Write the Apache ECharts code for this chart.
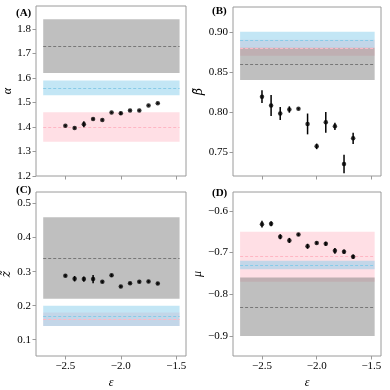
<!DOCTYPE html>
<html>
<head>
<meta charset="utf-8">
<script src="https://cdn.jsdelivr.net/npm/echarts@6/dist/echarts.min.js"></script>
<style>
html, body { margin: 0; padding: 0; background: #fff; }
#chart { width: 390px; height: 390px; }
</style>
</head>
<body>
<div id="chart"></div>
<script>
// epsilon values of the simulation points
var eps = [-2.5, -2.4167, -2.3333, -2.25, -2.1667, -2.0833, -2.0, -1.9167, -1.8333, -1.75, -1.6667];

// measured exponents and their errors
var alphaVal = [1.405, 1.396, 1.411, 1.433, 1.429, 1.459, 1.456, 1.467, 1.467, 1.488, 1.497];
var alphaErr = [0.003, 0.003, 0.012, 0.003, 0.003, 0.003, 0.006, 0.003, 0.003, 0.003, 0.003];
var betaVal = [0.819, 0.808, 0.798, 0.803, 0.804, 0.785, 0.757, 0.787, 0.782, 0.735, 0.767];
var betaErr = [0.008, 0.013, 0.008, 0.004, 0.001, 0.013, 0.0035, 0.013, 0.0045, 0.0115, 0.007];
var zVal = [0.288, 0.279, 0.278, 0.278, 0.270, 0.289, 0.256, 0.266, 0.270, 0.271, 0.265];
var zErr = [0.003, 0.008, 0.008, 0.012, 0.003, 0.004, 0.003, 0.003, 0.003, 0.003, 0.003];
var muVal = [-0.632, -0.631, -0.662, -0.671, -0.657, -0.685, -0.677, -0.679, -0.696, -0.698, -0.710];
var muErr = [0.008, 0.006, 0.006, 0.006, 0.003, 0.006, 0.003, 0.005, 0.007, 0.005, 0.005];

// reference bands: [low, mean, high], drawn in order pink, blue, gray
var bandX = [-2.7, -1.47];
var alphaBands = [[1.34, 1.40, 1.46], [1.53, 1.56, 1.59], [1.62, 1.73, 1.84]];
var betaBands = [[0.87, 0.88, 0.89], [0.88, 0.89, 0.90], [0.84, 0.86, 0.88]];
var zBands = [[0.14, 0.16, 0.18], [0.14, 0.17, 0.20], [0.22, 0.34, 0.46]];
var muBands = [[-0.77, -0.71, -0.65], [-0.74, -0.73, -0.72], [-0.90, -0.83, -0.76]];

// tick labels
var xTicks = [-2.5, -2.0, -1.5];
var alphaTicks = [1.2, 1.3, 1.4, 1.5, 1.6, 1.7, 1.8];
var betaTicks = [0.75, 0.80, 0.85, 0.90];
var zTicks = [0.1, 0.2, 0.3, 0.4, 0.5];
var muTicks = [-0.9, -0.8, -0.7, -0.6];

var bandFill = ['rgba(255,192,203,0.5)', 'rgba(135,206,235,0.5)', 'rgba(128,128,128,0.5)'];
var bandLine = ['#ffb6c4', '#87cbe8', '#777777'];

var FONT = "'Liberation Serif', 'DejaVu Serif', serif";

function fmt(d) {
    return function (v) { return Number(v).toFixed(d).replace('-', '\u2212'); };
}

var grids = [
    { left: 36, top: 6, width: 150, height: 170 },
    { left: 233, top: 7, width: 148, height: 169 },
    { left: 36, top: 192, width: 150, height: 166 },
    { left: 233, top: 192, width: 148, height: 166 }
];
grids.forEach(function (g) {
    g.show = true;
    g.borderColor = '#9a9a9a';
    g.borderWidth = 1;
    g.backgroundColor = 'transparent';
});

function xAxis(i, labels) {
    return {
        type: 'value', gridIndex: i, min: -2.765, max: -1.412,
        name: labels ? '\u03b5' : '', nameLocation: 'middle', nameGap: 21,
        nameTextStyle: { fontFamily: FONT, fontStyle: 'italic', fontSize: 12, color: '#000' },
        axisLine: { show: false },
        axisTick: { show: true, length: 3.5, customValues: xTicks, lineStyle: { color: '#9a9a9a' } },
        axisLabel: { show: labels, customValues: xTicks, formatter: fmt(1), margin: 5,
            fontFamily: FONT, fontSize: 11, color: '#000' },
        splitLine: { show: false }
    };
}

function yAxis(i, min, max, ticks, d, name, nameFont) {
    return {
        type: 'value', gridIndex: i, min: min, max: max,
        name: name, nameLocation: 'middle', nameGap: 22, nameRotate: 90,
        nameTextStyle: { fontFamily: nameFont || FONT, fontStyle: 'italic', fontSize: 12, color: '#000' },
        axisLine: { show: false },
        axisTick: { show: true, length: 3.5, customValues: ticks, lineStyle: { color: '#9a9a9a' } },
        axisLabel: { customValues: ticks, formatter: fmt(d), margin: 5,
            fontFamily: FONT, fontSize: 11, color: '#000' },
        splitLine: { show: false }
    };
}

function bandSeries(i, bands) {
    return {
        type: 'line', xAxisIndex: i, yAxisIndex: i, data: [], silent: true,
        markArea: {
            silent: true,
            data: bands.map(function (b, k) {
                return [{ coord: [bandX[0], b[0]], itemStyle: { color: bandFill[k] } },
                        { coord: [bandX[1], b[2]] }];
            })
        },
        markLine: {
            silent: true, symbol: ['none', 'none'], label: { show: false },
            data: bands.map(function (b, k) {
                return [{ coord: [bandX[0], b[1]], lineStyle: { color: bandLine[k], type: [3, 2], width: 1 } },
                        { coord: [bandX[1], b[1]] }];
            })
        }
    };
}

function errSeries(i, vals, errs) {
    return {
        type: 'custom', xAxisIndex: i, yAxisIndex: i, z: 5,
        data: eps.map(function (x, k) { return [x, vals[k] - errs[k], vals[k] + errs[k]]; }),
        renderItem: function (params, api) {
            var lo = api.coord([api.value(0), api.value(1)]);
            var hi = api.coord([api.value(0), api.value(2)]);
            return {
                type: 'line',
                shape: { x1: lo[0], y1: lo[1], x2: hi[0], y2: hi[1] },
                style: { stroke: '#000', lineWidth: 1.5 }
            };
        }
    };
}

function pointSeries(i, vals) {
    return {
        type: 'scatter', xAxisIndex: i, yAxisIndex: i, z: 6,
        symbolSize: 4.5, itemStyle: { color: '#000' },
        data: eps.map(function (x, k) { return [x, vals[k]]; })
    };
}

var panelLabels = ['(A)', '(B)', '(C)', '(D)'];
var labelPos = [[16, 8], [212, 6], [16, 185], [212, 188]];

var myChart = echarts.init(document.getElementById('chart'), null, { renderer: 'canvas' });
var option = {
    animation: false,
    backgroundColor: '#fff',
    title: panelLabels.map(function (t, k) {
        return { text: t, left: labelPos[k][0], top: labelPos[k][1], padding: 0,
            textStyle: { fontFamily: FONT, fontWeight: 'bold', fontSize: 11, color: '#000' } };
    }),
    grid: grids,
    xAxis: [xAxis(0, false), xAxis(1, false), xAxis(2, true), xAxis(3, true)],
    yAxis: [
        yAxis(0, 1.2, 1.894, alphaTicks, 1, '\u03b1'),
        yAxis(1, 0.72, 0.931, betaTicks, 2, '\u03b2\u0303', "'DejaVu Serif', serif"),
        yAxis(2, 0.052, 0.534, zTicks, 1, 'z\u0303', "'DejaVu Serif', serif"),
        yAxis(3, -0.948, -0.555, muTicks, 1, '\u03bc')
    ],
    series: [
        bandSeries(0, alphaBands), errSeries(0, alphaVal, alphaErr), pointSeries(0, alphaVal),
        bandSeries(1, betaBands), errSeries(1, betaVal, betaErr), pointSeries(1, betaVal),
        bandSeries(2, zBands), errSeries(2, zVal, zErr), pointSeries(2, zVal),
        bandSeries(3, muBands), errSeries(3, muVal, muErr), pointSeries(3, muVal)
    ]
};
myChart.setOption(option);
</script>
</body>
</html>
